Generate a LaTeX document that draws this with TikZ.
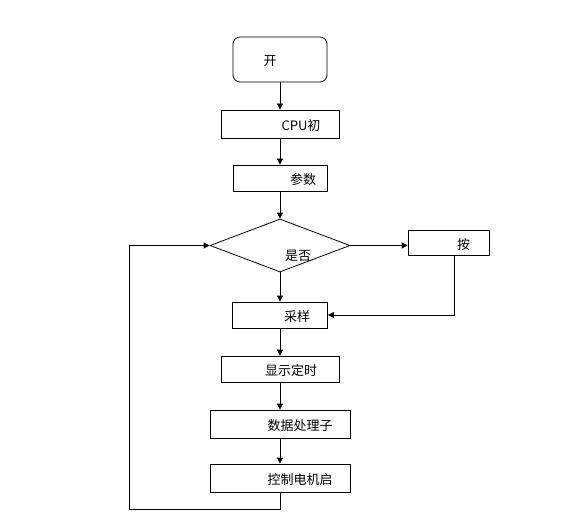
\documentclass[tikz,border=0pt]{standalone}
\usepackage{fontspec}
\newfontfamily\cjk{Noto Sans CJK SC}
\usetikzlibrary{arrows.meta,shapes.geometric}

\tikzset{
  stepbox/.style={draw, rectangle, inner sep=0pt, line width=0.8pt},
  decide/.style={draw, diamond, inner sep=0pt, line width=0.8pt},
  flow/.style={line width=0.8pt, -{Triangle[length=6pt,width=6pt]}},
  txt/.style={font=\cjk\fontsize{13}{15}\selectfont, yshift=-2pt},
}

\begin{document}
\begin{tikzpicture}[x=1pt, y=-1pt]
    \useasboundingbox[fill=white] (0,0) rectangle (582,519);

    % Kasten
    \node[stepbox, rounded corners=7pt, minimum width=94pt, minimum height=45pt,
          label={[txt, xshift=-10pt]center:开}] (kai) at (280,59.5) {};
    \node[stepbox, minimum width=118pt, minimum height=28pt,
          label={[txt, xshift=21pt]center:CPU初}] (cpu) at (280,124) {};
    \node[stepbox, minimum width=94pt, minimum height=26pt,
          label={[txt, xshift=23pt]center:参数}] (cs) at (280,178) {};
    \node[decide, minimum width=140pt, minimum height=53pt,
          label={[txt, xshift=18pt, yshift=-8pt]center:是否}] (pd) at (280,245.5) {};
    \node[stepbox, minimum width=81pt, minimum height=25pt,
          label={[txt, xshift=15pt]center:按}] (an) at (448.5,242.5) {};
    \node[stepbox, minimum width=95pt, minimum height=26pt,
          label={[txt, xshift=17pt]center:采样}] (cy) at (280,315) {};
    \node[stepbox, minimum width=118pt, minimum height=26pt,
          label={[txt, xshift=11pt]center:显示定时}] (xs) at (280,369) {};
    \node[stepbox, minimum width=140pt, minimum height=28pt,
          label={[txt, xshift=20pt]center:数据处理子}] (sj) at (280,424) {};
    \node[stepbox, minimum width=140pt, minimum height=28pt,
          label={[txt, xshift=20pt]center:控制电机启}] (kz) at (280,478) {};

    \coordinate (ret) at (129,509);

    % Pfeile
    \draw[flow] (kai) -- (cpu);
    \draw[flow] (cpu) -- (cs);
    \draw[flow] (cs) -- (pd);
    \draw[flow] (pd.east) -- (pd.east -| an.west);
    \draw[flow] (pd.south) -- (cy.north);
    \draw[flow] ([xshift=6pt]an.south) |- (cy.east);
    \draw[flow] (cy) -- (xs);
    \draw[flow] (xs) -- (sj);
    \draw[flow] (sj) -- (kz);
    \draw[flow] (kz.south) |- (ret) |- (pd.west);
\end{tikzpicture}
\end{document}
